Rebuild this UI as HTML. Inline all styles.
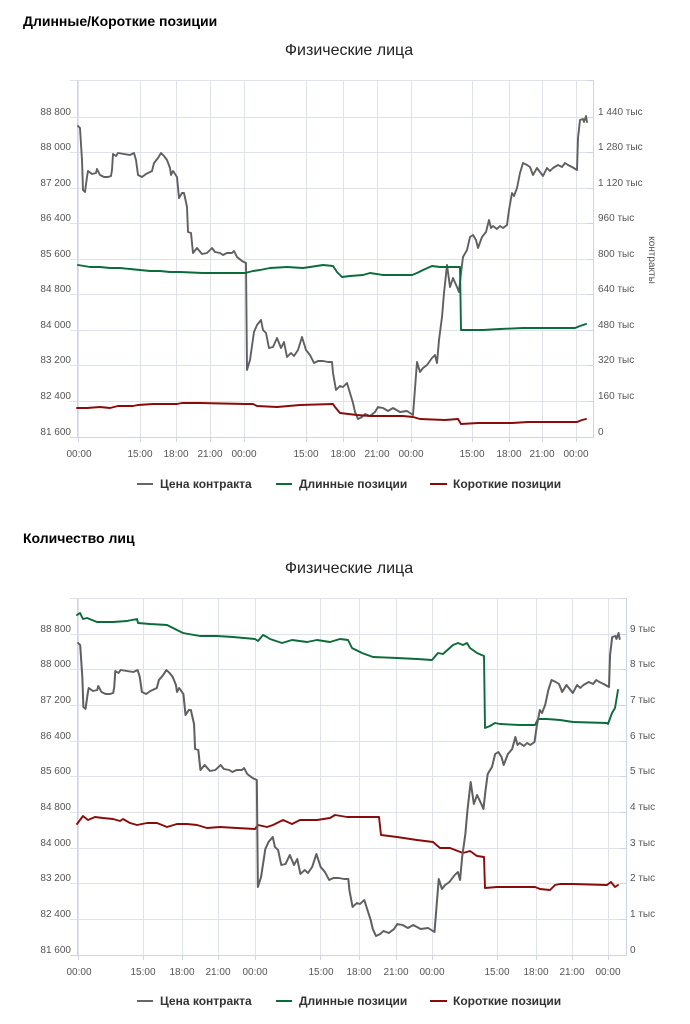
<!DOCTYPE html>
<html><head><meta charset="utf-8">
<style>
html,body{margin:0;padding:0;background:#fff;}
svg{display:block;font-family:"Liberation Sans","Noto Sans CJK SC",sans-serif;}
.ax{font-size:10px;fill:#555;}
.ttl{font-size:16px;fill:#222;}
.hd{font-size:14px;font-weight:bold;fill:#000;}
.lg{font-size:12px;font-weight:bold;fill:#333;}
.g{stroke:#dfe2e8;stroke-width:1;fill:none;}
.a{stroke:#ccd6eb;stroke-width:1;fill:none;}
.s{fill:none;stroke-width:1.9;stroke-linejoin:round;stroke-linecap:round;}
</style></head>
<body>
<svg width="690" height="1024" viewBox="0 0 690 1024" xmlns="http://www.w3.org/2000/svg">
<!-- ============ TOP CHART ============ -->
<text class="hd" x="23" y="26">Длинные/Короткие позиции</text>
<text class="ttl" x="349" y="55" text-anchor="middle">Физические лица</text>

<g class="g">
<path d="M70 80.5H593M70 117.5H593M70 152.5H593M70 188.5H593M70 223.5H593M70 259.5H593M70 294.5H593M70 330.5H593M70 365.5H593M70 401.5H593"/>
<path d="M78.5 80V441M140.5 80V441M176.5 80V441M210.5 80V441M244.5 80V441M306.5 80V441M343.5 80V441M377.5 80V441M411.5 80V441M472.5 80V441M509.5 80V441M542.5 80V441M576.5 80V441"/>
</g>
<g class="a">
<path d="M77.5 80V437.5M70 437.5H593.5M593.5 80V437.5"/>
<path d="M587 80.5H593M587 117.5H593M587 152.5H593M587 188.5H593M587 223.5H593M587 259.5H593M587 294.5H593M587 330.5H593M587 365.5H593M587 401.5H593"/>
<path d="M78.5 437V442M140.5 437V442M176.5 437V442M210.5 437V442M244.5 437V442M306.5 437V442M343.5 437V442M377.5 437V442M411.5 437V442M472.5 437V442M509.5 437V442M542.5 437V442M576.5 437V442"/>
</g>

<g class="ax" text-anchor="end">
<text x="71" y="115">88 800</text>
<text x="71" y="150">88 000</text>
<text x="71" y="186">87 200</text>
<text x="71" y="221">86 400</text>
<text x="71" y="257">85 600</text>
<text x="71" y="292">84 800</text>
<text x="71" y="328">84 000</text>
<text x="71" y="363">83 200</text>
<text x="71" y="399">82 400</text>
<text x="71" y="435">81 600</text>
</g>
<g class="ax">
<text x="598" y="115">1 440 тыс</text>
<text x="598" y="150">1 280 тыс</text>
<text x="598" y="186">1 120 тыс</text>
<text x="598" y="221">960 тыс</text>
<text x="598" y="257">800 тыс</text>
<text x="598" y="292">640 тыс</text>
<text x="598" y="328">480 тыс</text>
<text x="598" y="363">320 тыс</text>
<text x="598" y="399">160 тыс</text>
<text x="598" y="435">0</text>
</g>
<text class="ax" transform="translate(649,260) rotate(90)" text-anchor="middle">контракты</text>
<g class="ax" text-anchor="middle">
<text x="79" y="457">00:00</text>
<text x="140" y="457">15:00</text>
<text x="176" y="457">18:00</text>
<text x="210" y="457">21:00</text>
<text x="244" y="457">00:00</text>
<text x="306" y="457">15:00</text>
<text x="343" y="457">18:00</text>
<text x="377" y="457">21:00</text>
<text x="411" y="457">00:00</text>
<text x="472" y="457">15:00</text>
<text x="509" y="457">18:00</text>
<text x="542" y="457">21:00</text>
<text x="576" y="457">00:00</text>
</g>

<polyline id="price" class="s" stroke="#606060" points="78,126 80,128 82,160 83,190 85,192 87,177 88,171 92,174 96,173 97,169 100,175 104,177 108,177 111,176 112,170 113,154 116,156 118,153 124,154 130,155 134,153 136,160 138,175 142,177 146,174 150,172 152,171 154,163 158,158 161,153 164,156 167,160 170,168 171,175 173,171 177,177 179,198 182,193 184,193 187,207 188,232 191,233 193,253 197,248 202,254 207,253 212,248 215,252 220,253 223,255 227,253 232,253 234,251 237,257 242,261 246,263 247,370 250,360 254,332 257,325 261,320 263,330 266,333 269,348 273,347 277,338 281,348 284,342 287,357 291,353 294,356 298,350 302,337 306,350 310,355 314,363 318,361 323,361 328,362 332,362 333,373 336,390 340,386 343,387 347,383 350,393 353,403 355,412 358,419 362,417 365,414 370,416 375,412 378,407 383,408 388,411 393,408 400,412 407,411 410,413 413,415 417,362 420,372 423,368 427,365 432,358 435,355 437,363 439,340 442,317 444,293 447,265 450,287 453,278 457,287 459,292 461,273 463,257 467,250 470,237 473,235 476,240 478,248 482,237 486,232 489,220 491,228 493,226 497,229 500,226 503,228 507,225 509,210 512,193 514,196 517,188 520,173 523,163 527,165 530,167 533,175 537,168 540,172 543,176 547,168 550,171 553,168 558,165 562,167 565,163 568,165 572,167 577,170 578,138 580,120 583,119 584,122 586,116 587,122"/>
<polyline class="s" stroke="#0b6b3a" points="78,265 90,267 100,267 110,268 120,268 130,269 140,270 150,271 160,271 170,272 180,272 203,273 220,273 245,273 253,271 260,270 270,268 287,267 303,268 310,267 323,265 333,266 337,272 342,277 350,276 363,275 370,273 383,275 403,275 412,275 417,273 423,270 432,266 440,267 450,267 460,267 461,330 483,330 500,329 523,328 550,328 575,328 580,326 586,324"/>
<polyline class="s" stroke="#8a0b0b" points="77,408 87,408 100,407 110,408 118,406 133,406 138,405 153,404 177,404 182,403 200,403 245,404 253,404 257,406 277,407 300,405 333,404 335,407 340,413 357,415 370,416 403,416 413,417 420,419 445,420 458,419 461,424 478,423 512,423 528,422 577,422 582,420 586,419"/>

<path d="M137 484H153" stroke="#666666" stroke-width="2"/>
<text class="lg" x="160" y="488">Цена контракта</text>
<path d="M276 484H292" stroke="#0b6b3a" stroke-width="2"/>
<text class="lg" x="299" y="488">Длинные позиции</text>
<path d="M430 484H447" stroke="#8a0b0b" stroke-width="2"/>
<text class="lg" x="453" y="488">Короткие позиции</text>

<!-- ============ BOTTOM CHART ============ -->
<text class="hd" x="23" y="543">Количество лиц</text>
<text class="ttl" x="349" y="573" text-anchor="middle">Физические лица</text>

<g class="g">
<path d="M70 598.5H626M70 634.5H626M70 669.5H626M70 705.5H626M70 741.5H626M70 776.5H626M70 812.5H626M70 848.5H626M70 883.5H626M70 919.5H626"/>
<path d="M78.5 598V959M143.5 598V959M182.5 598V959M218.5 598V959M255.5 598V959M320.5 598V959M359.5 598V959M396.5 598V959M432.5 598V959M497.5 598V959M536.5 598V959M572.5 598V959M608.5 598V959"/>
</g>
<g class="a">
<path d="M77.5 598V955.5M70 955.5H626.5M626.5 598V955.5"/>
<path d="M620 598.5H626M620 634.5H626M620 669.5H626M620 705.5H626M620 741.5H626M620 776.5H626M620 812.5H626M620 848.5H626M620 883.5H626M620 919.5H626"/>
<path d="M78.5 955V960M143.5 955V960M182.5 955V960M218.5 955V960M255.5 955V960M320.5 955V960M359.5 955V960M396.5 955V960M432.5 955V960M497.5 955V960M536.5 955V960M572.5 955V960M608.5 955V960"/>
</g>

<g class="ax" text-anchor="end">
<text x="71" y="632">88 800</text>
<text x="71" y="667">88 000</text>
<text x="71" y="703">87 200</text>
<text x="71" y="739">86 400</text>
<text x="71" y="774">85 600</text>
<text x="71" y="810">84 800</text>
<text x="71" y="846">84 000</text>
<text x="71" y="881">83 200</text>
<text x="71" y="917">82 400</text>
<text x="71" y="953">81 600</text>
</g>
<g class="ax">
<text x="630" y="632">9 тыс</text>
<text x="630" y="667">8 тыс</text>
<text x="630" y="703">7 тыс</text>
<text x="630" y="739">6 тыс</text>
<text x="630" y="774">5 тыс</text>
<text x="630" y="810">4 тыс</text>
<text x="630" y="846">3 тыс</text>
<text x="630" y="881">2 тыс</text>
<text x="630" y="917">1 тыс</text>
<text x="630" y="953">0</text>
</g>
<g class="ax" text-anchor="middle">
<text x="79" y="975">00:00</text>
<text x="143" y="975">15:00</text>
<text x="182" y="975">18:00</text>
<text x="218" y="975">21:00</text>
<text x="255" y="975">00:00</text>
<text x="321" y="975">15:00</text>
<text x="359" y="975">18:00</text>
<text x="396" y="975">21:00</text>
<text x="432" y="975">00:00</text>
<text x="497" y="975">15:00</text>
<text x="536" y="975">18:00</text>
<text x="572" y="975">21:00</text>
<text x="608" y="975">00:00</text>
</g>

<polyline class="s" stroke="#0b6b3a" points="77,615 80,613 83,619 87,618 97,622 113,622 127,621 137,619 138,623 150,624 167,625 173,628 183,633 200,636 217,636 233,637 255,639 258,641 263,635 267,637 270,639 282,643 292,640 307,642 317,640 330,642 340,639 348,640 352,648 362,653 373,657 397,658 417,659 432,660 438,653 443,654 453,645 458,643 463,645 467,643 470,648 477,653 484,656 485,728 490,726 495,723 500,724 520,725 535,725 538,719 547,719 560,720 573,722 607,723 608,724 612,713 615,708 618,690"/>
<polyline class="s" stroke="#8a0b0b" points="77,824 83,816 88,820 95,817 103,818 113,819 120,821 123,819 130,823 137,825 147,823 157,823 167,827 177,824 187,824 197,825 207,828 220,827 237,828 255,829 258,825 267,827 273,825 283,820 292,824 300,820 317,820 330,818 335,815 347,817 363,817 379,817 381,835 397,837 417,840 433,842 440,848 450,848 463,853 470,851 477,856 484,857 485,888 497,887 520,887 535,887 540,889 550,890 555,885 560,884 573,884 607,885 611,882 615,887 618,885"/>
<use href="#price" transform="matrix(1.064 0 0 1 -4.93 517)"/>

<path d="M137 1001H153" stroke="#666666" stroke-width="2"/>
<text class="lg" x="160" y="1005">Цена контракта</text>
<path d="M276 1001H292" stroke="#0b6b3a" stroke-width="2"/>
<text class="lg" x="299" y="1005">Длинные позиции</text>
<path d="M430 1001H447" stroke="#8a0b0b" stroke-width="2"/>
<text class="lg" x="453" y="1005">Короткие позиции</text>
</svg>
</body></html>
